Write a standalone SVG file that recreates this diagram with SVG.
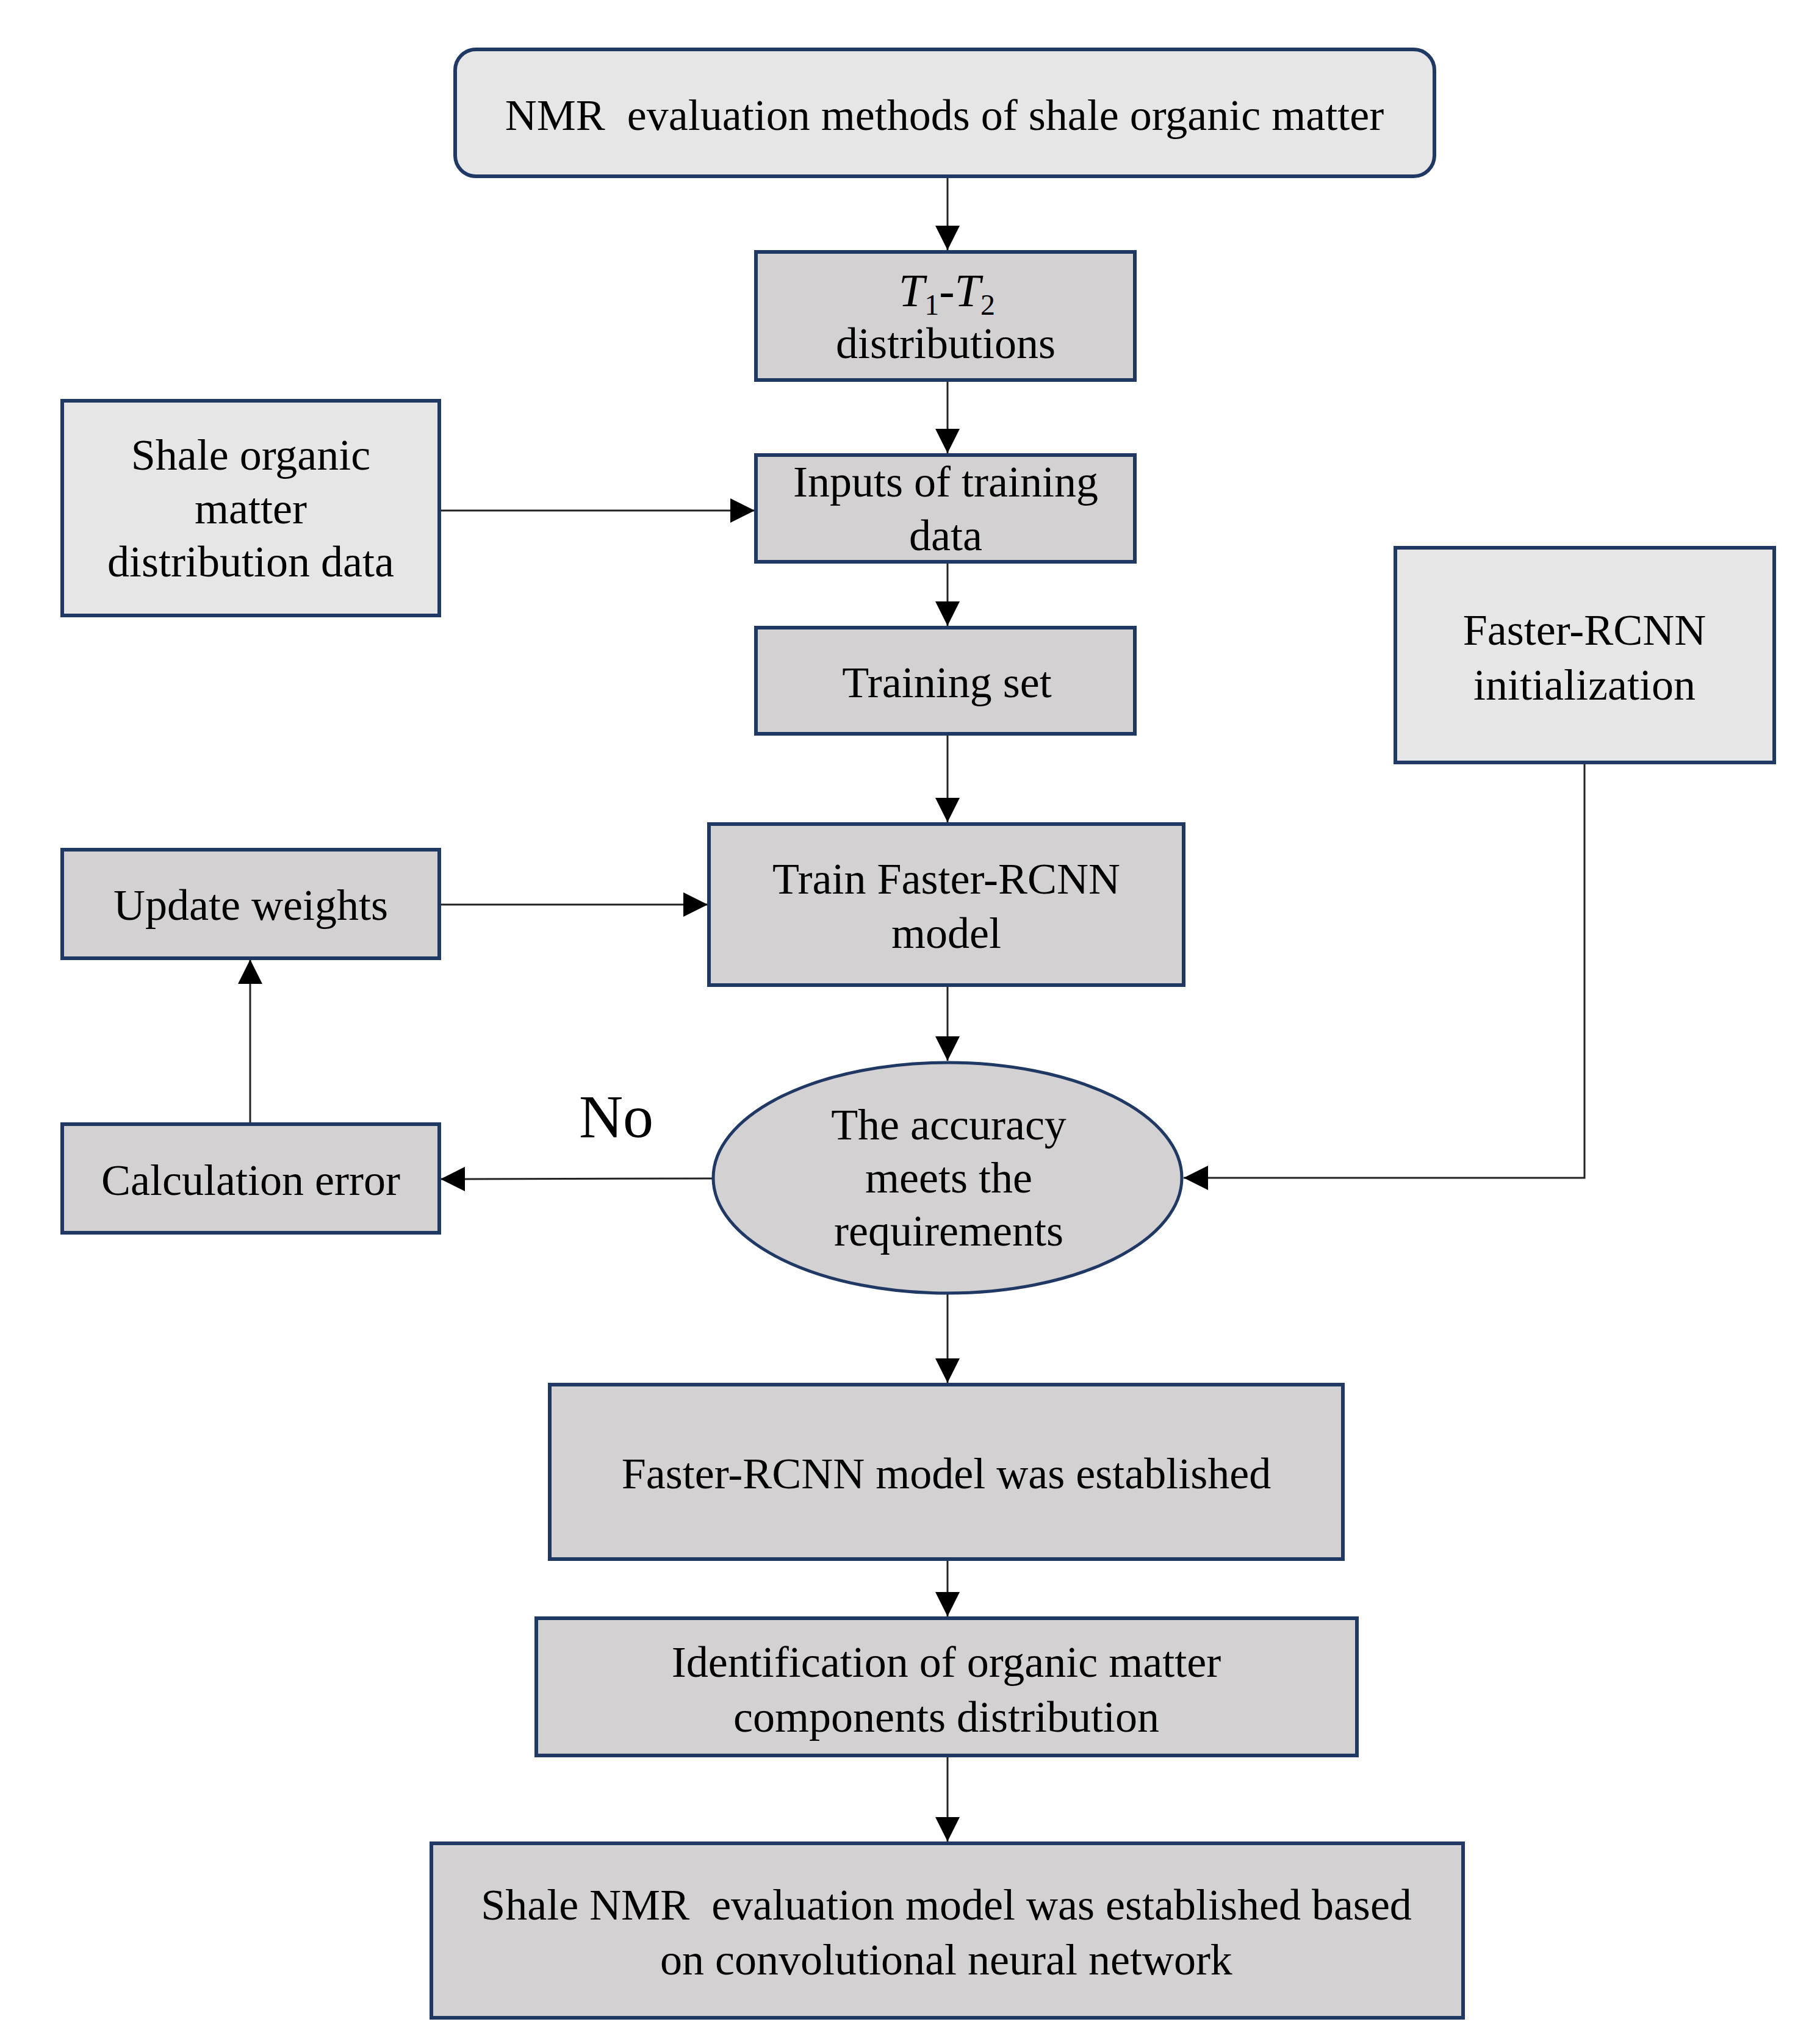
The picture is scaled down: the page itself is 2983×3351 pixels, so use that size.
<svg xmlns="http://www.w3.org/2000/svg" width="2983" height="3351" viewBox="0 0 2983 3351">
<style>
.lt{fill:#e7e6e6;stroke:#1f3864;stroke-width:6}
.dk{fill:#d3d1d1;stroke:#1f3864;stroke-width:6}
.el{fill:#d3d1d1;stroke:#1f3864;stroke-width:5}
text{font-family:"Liberation Serif","Times New Roman",serif;font-size:72px;fill:#000;text-anchor:middle}
.c{fill:none;stroke:#222;stroke-width:3;marker-end:url(#ah)}
</style>
<defs>
<marker id="ah" markerUnits="userSpaceOnUse" markerWidth="40" markerHeight="40" refX="38" refY="19" orient="auto" viewBox="0 0 38 38">
<path d="M0,0 L38,19 L0,38 z" fill="#000"/>
</marker>
</defs>
<rect width="2983" height="3351" fill="#fff"/>
<g id="connectors">
<line class="c" x1="1553" y1="290" x2="1553" y2="410"/>
<line class="c" x1="1553" y1="624" x2="1553" y2="743"/>
<line class="c" x1="720" y1="837" x2="1237" y2="837"/>
<line class="c" x1="1553" y1="921" x2="1553" y2="1026"/>
<line class="c" x1="1553" y1="1203" x2="1553" y2="1348"/>
<line class="c" x1="720" y1="1483" x2="1160" y2="1483"/>
<line class="c" x1="1553" y1="1616" x2="1553" y2="1739"/>
<line class="c" x1="1168" y1="1932" x2="722" y2="1933"/>
<line class="c" x1="410" y1="1842" x2="410" y2="1573"/>
<polyline class="c" points="2597,1250 2597,1931 1940,1931"/>
<line class="c" x1="1553" y1="2121" x2="1553" y2="2267"/>
<line class="c" x1="1553" y1="2556" x2="1553" y2="2650"/>
<line class="c" x1="1553" y1="2878" x2="1553" y2="3019"/>
</g>
<text x="1010" y="1864" style="font-size:100px">No</text>
<g id="n_top">
<rect class="lt" x="746" y="81" width="1605" height="208" rx="34" ry="34"/>
<text x="1548" y="213">NMR&#160; evaluation methods of shale organic matter</text>
</g>
<g id="n_t1t2">
<rect class="dk" x="1239" y="413" width="621" height="210"/>
<text x="1552" y="502" style="font-size:76px"><tspan font-style="italic">T</tspan><tspan font-size="48" dy="14">1</tspan><tspan dy="-14">-</tspan><tspan font-style="italic">T</tspan><tspan font-size="48" dy="14">2</tspan></text>
<text x="1550" y="587">distributions</text>
</g>
<g id="n_shale">
<rect class="lt" x="102" y="657" width="618" height="352"/>
<text x="411" y="770">Shale organic</text>
<text x="411" y="858">matter</text>
<text x="411" y="945">distribution data</text>
</g>
<g id="n_inputs">
<rect class="dk" x="1239" y="746" width="621" height="175"/>
<text x="1550" y="814">Inputs of training</text>
<text x="1550" y="902">data</text>
</g>
<g id="n_trainset">
<rect class="dk" x="1239" y="1029" width="621" height="174"/>
<text x="1552" y="1143">Training set</text>
</g>
<g id="n_init">
<rect class="lt" x="2287" y="898" width="621" height="352"/>
<text x="2597" y="1057">Faster-RCNN</text>
<text x="2597" y="1147">initialization</text>
</g>
<g id="n_update">
<rect class="dk" x="102" y="1393" width="618" height="178"/>
<text x="411" y="1508">Update weights</text>
</g>
<g id="n_train">
<rect class="dk" x="1162" y="1351" width="778" height="264"/>
<text x="1551" y="1465">Train Faster-RCNN</text>
<text x="1551" y="1554">model</text>
</g>
<g id="n_acc">
<ellipse class="el" cx="1553" cy="1931" rx="384" ry="189"/>
<text x="1555" y="1868">The accuracy</text>
<text x="1555" y="1955">meets the</text>
<text x="1555" y="2042">requirements</text>
</g>
<g id="n_calc">
<rect class="dk" x="102" y="1843" width="618" height="178"/>
<text x="411" y="1959">Calculation error</text>
</g>
<g id="n_est">
<rect class="dk" x="901" y="2270" width="1300" height="286"/>
<text x="1551" y="2440">Faster-RCNN model was established</text>
</g>
<g id="n_ident">
<rect class="dk" x="879" y="2653" width="1345" height="225"/>
<text x="1551" y="2749">Identification of organic matter</text>
<text x="1551" y="2839">components distribution</text>
</g>
<g id="n_final">
<rect class="dk" x="707" y="3022" width="1691" height="286"/>
<text x="1551" y="3147">Shale NMR&#160; evaluation model was established based</text>
<text x="1551" y="3237">on convolutional neural network</text>
</g>
</svg>
